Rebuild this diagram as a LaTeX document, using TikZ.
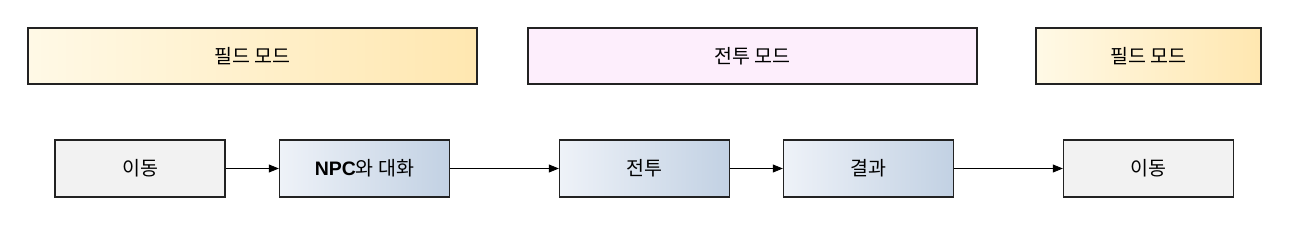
\documentclass[tikz,border=0pt]{standalone}
\usepackage{fontspec}
\setmainfont{Noto Sans CJK KR}
\newfontfamily\latinbold{Liberation Sans}
\usetikzlibrary{arrows.meta}
\definecolor{fieldA}{HTML}{FFF9E6}
\definecolor{fieldM}{HTML}{FFF0C8}
\definecolor{fieldB}{HTML}{FFE7B0}
\definecolor{battle}{HTML}{FDEEFC}
\definecolor{grayfill}{HTML}{F2F2F2}
\definecolor{blueA}{HTML}{EEF2F8}
\definecolor{blueM}{HTML}{D6E0EC}
\definecolor{blueB}{HTML}{C2D1E3}
\definecolor{edge}{HTML}{222222}
\tikzset{
  box/.style={draw=edge, line width=1.4pt, minimum height=56pt, inner sep=0pt, font=\fontsize{19.5}{22}\selectfont, text=black},
  fieldbox/.style={box, left color=fieldA, middle color=fieldM, right color=fieldB},
  battlebox/.style={box, fill=battle},
  movebox/.style={box, fill=grayfill, minimum width=170pt, minimum height=57pt},
  actbox/.style={box, left color=blueA, middle color=blueM, right color=blueB, minimum width=170pt, minimum height=57pt},
  flow/.style={-{Triangle[length=10pt,width=8pt]}, line width=0.8pt, black}
}
\begin{document}
\begin{tikzpicture}[x=1pt,y=-1pt]
\useasboundingbox (0,0) rectangle (1291,225);
\node[fieldbox, minimum width=449pt] (f1) at (252.5,56) {필드 모드};
\node[battlebox, minimum width=449pt] (b) at (752.5,56) {전투 모드};
\node[fieldbox, minimum width=225pt] (f2) at (1148.5,56) {필드 모드};
\node[movebox] (m1) at (140,168.5) {이동};
\node[actbox] (npc) at (364.5,168.5) {{\latinbold\bfseries NPC}와 대화};
\node[actbox] (fight) at (644.5,168.5) {전투};
\node[actbox] (res) at (868.5,168.5) {결과};
\node[movebox] (m2) at (1148.5,168.5) {이동};
\draw[flow] (m1) -- (npc);
\draw[flow] (npc) -- (fight);
\draw[flow] (fight) -- (res);
\draw[flow] (res) -- (m2);
\end{tikzpicture}
\end{document}
